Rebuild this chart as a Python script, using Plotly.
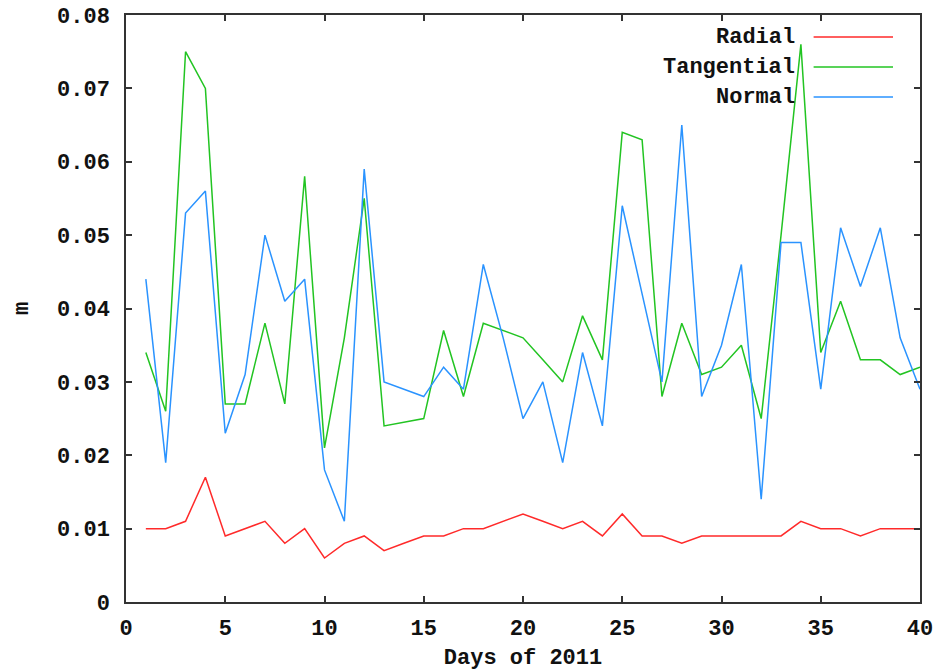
import plotly.graph_objects as go

# Daily position error components (metres), days 1..40 of 2011
days = list(range(1, 41))

radial = [0.010, 0.010, 0.011, 0.017, 0.009, 0.010, 0.011, 0.008, 0.010, 0.006,
          0.008, 0.009, 0.007, 0.008, 0.009, 0.009, 0.010, 0.010, 0.011, 0.012,
          0.011, 0.010, 0.011, 0.009, 0.012, 0.009, 0.009, 0.008, 0.009, 0.009,
          0.009, 0.009, 0.009, 0.011, 0.010, 0.010, 0.009, 0.010, 0.010, 0.010]

tangential = [0.034, 0.026, 0.075, 0.070, 0.027, 0.027, 0.038, 0.027, 0.058, 0.021,
              0.036, 0.055, 0.024, 0.0245, 0.025, 0.037, 0.028, 0.038, 0.037, 0.036,
              0.033, 0.030, 0.039, 0.033, 0.064, 0.063, 0.028, 0.038, 0.031, 0.032,
              0.035, 0.025, 0.050, 0.076, 0.034, 0.041, 0.033, 0.033, 0.031, 0.032]

normal = [0.044, 0.019, 0.053, 0.056, 0.023, 0.031, 0.050, 0.041, 0.044, 0.018,
          0.011, 0.059, 0.030, 0.029, 0.028, 0.032, 0.029, 0.046, 0.036, 0.025,
          0.030, 0.019, 0.034, 0.024, 0.054, 0.042, 0.030, 0.065, 0.028, 0.035,
          0.046, 0.014, 0.049, 0.049, 0.029, 0.051, 0.043, 0.051, 0.036, 0.029]

series_names = ["Radial", "Tangential", "Normal"]
series_colors = ["#ff2a2a", "#22c422", "#2a93ff"]

x_tickvals = [0, 5, 10, 15, 20, 25, 30, 35, 40]
y_tickvals = [0, 0.01, 0.02, 0.03, 0.04, 0.05, 0.06, 0.07, 0.08]
y_ticktext = ["0", "0.01", "0.02", "0.03", "0.04", "0.05", "0.06", "0.07", "0.08"]

FONT = dict(family="Liberation Mono, Courier New, monospace", size=22,
            color="#111111", weight="bold")

fig = go.Figure()
for name, ys, col in zip(series_names, [radial, tangential, normal], series_colors):
    fig.add_trace(go.Scatter(x=days, y=ys, mode="lines", name=name,
                             line=dict(color=col, width=1.5), showlegend=False))

# Key in the top-right corner: right-aligned label followed by a line sample
key_rows_y = [0.9625, 0.9114, 0.8603]
for name, col, yy in zip(series_names, series_colors, key_rows_y):
    fig.add_annotation(x=0.845, y=yy, xref="paper", yref="paper", text=name,
                       showarrow=False, xanchor="right", yanchor="middle",
                       font=FONT)
    fig.add_shape(type="line", xref="paper", yref="paper",
                  x0=0.866, x1=0.966, y0=yy, y1=yy,
                  line=dict(color=col, width=1.5))

axis_common = dict(showgrid=False, zeroline=False, showline=True,
                   linecolor="#333333", linewidth=1.5, mirror="allticks",
                   ticks="inside", ticklen=6, tickwidth=1.5, tickcolor="#333333",
                   tickfont=FONT)

fig.update_xaxes(range=[0, 40], tickvals=x_tickvals, ticklabelstandoff=5,
                 title=dict(text="Days of 2011", font=FONT, standoff=10),
                 **axis_common)
fig.update_yaxes(range=[0, 0.08], tickvals=y_tickvals, ticktext=y_ticktext,
                 ticklabelstandoff=10,
                 title=dict(text="m", font=FONT, standoff=22),
                 **axis_common)

fig.update_layout(width=952, height=671, plot_bgcolor="white",
                  paper_bgcolor="white",
                  margin=dict(l=126, r=32, t=15, b=69, autoexpand=False))

fig.write_html("out.html")
